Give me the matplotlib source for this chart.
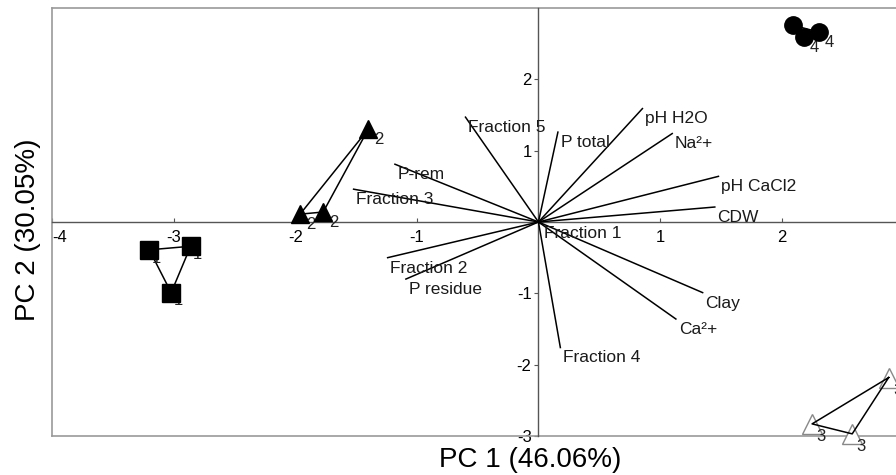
import matplotlib
matplotlib.use("Agg")
import matplotlib.pyplot as plt
from matplotlib.lines import Line2D

plt.rcParams['font.family'] = ['Liberation Sans', 'DejaVu Sans']

# ---- data ----
var_names = ["Fraction 5", "P total", "pH H2O", "Na\u00b2+", "pH CaCl2", "CDW",
             "Fraction 1", "Clay", "Ca\u00b2+", "Fraction 4", "P-rem",
             "Fraction 3", "Fraction 2", "P residue"]
var_x = [-0.60, 0.16, 0.855, 1.10, 1.48, 1.45, 0.02, 1.35, 1.13, 0.18, -1.18, -1.52, -1.24, -1.09]
var_y = [1.47, 1.26, 1.59, 1.24, 0.64, 0.21, -0.02, -0.99, -1.36, -1.76, 0.81, 0.46, -0.50, -0.80]

g1_x = [-3.20, -2.86, -3.02]
g1_y = [-0.39, -0.34, -0.99]
g2_x = [-1.40, -1.96, -1.77]
g2_y = [1.30, 0.11, 0.14]
g3_x = [2.88, 2.25, 2.58]
g3_y = [-2.18, -2.83, -2.97]
g4_x = [2.09, 2.18, 2.31]
g4_y = [2.76, 2.59, 2.66]

x_ticks = [-4, -3, -2, -1, 1, 2]
y_ticks = [-3, -2, -1, 1, 2]

# ---- figure ----
fig = plt.figure(figsize=(8.96, 4.75), dpi=100)
ax = fig.add_axes([52/896, 1-436/475, 1-52/896, (436-8)/475])
ax.set_xlim(-4, 2.94)
ax.set_ylim(-3, 3)

# zero axes via spines
ax.spines['left'].set_position(('data', 0))
ax.spines['bottom'].set_position(('data', 0))
for s in ['left', 'bottom']:
    ax.spines[s].set_color('#555555')
    ax.spines[s].set_linewidth(1.0)
ax.spines['right'].set_visible(False)
ax.spines['top'].set_visible(False)

# frame (left, top, bottom)
frame_kw = dict(transform=ax.transAxes, color='#999999', lw=1.2, clip_on=False)
ax.add_line(Line2D([0, 0], [0, 1], **frame_kw))
ax.add_line(Line2D([0, 1], [1, 1], **frame_kw))
ax.add_line(Line2D([0, 1], [0, 0], **frame_kw))

ax.set_xticks(x_ticks)
ax.set_xticklabels([str(t) for t in x_ticks])
ax.set_yticks(y_ticks)
ax.set_yticklabels([str(t) for t in y_ticks])
ax.tick_params(axis='x', direction='in', length=3, color='#555555', labelsize=12, pad=6)
ax.tick_params(axis='y', direction='out', length=3, color='#555555', labelsize=12, pad=2)
for lbl in ax.get_xticklabels():
    if lbl.get_text() == '-4':
        lbl.set_horizontalalignment('left')
        lbl.set_x(-4)

# vectors
for name, vx, vy in zip(var_names, var_x, var_y):
    ax.plot([0, vx], [0, vy], color='black', lw=1.1, zorder=3)
    ax.annotate(name, (vx, vy), xytext=(2, -7.5), textcoords='offset points',
                ha='left', va='center', fontsize=12.5, color='#1a1a1a', zorder=4)

# groups
def group(xs, ys, label, marker, ms, mfc, mec, off):
    ax.plot(xs + xs[:1], ys + ys[:1], color='black', lw=1.1, zorder=5)
    for x, y in zip(xs, ys):
        ax.annotate(label, (x, y), xytext=off, textcoords='offset points',
                    ha='left', va='center', fontsize=12, color='#222222', zorder=5.5)
    ax.plot(xs, ys, linestyle='none', marker=marker, ms=ms, mfc=mfc, mec=mec,
            mew=1.0, zorder=6, clip_on=False)

group(g1_x, g1_y, '1', 's', 13, 'black', 'black', (1.5, -6))
group(g2_x, g2_y, '2', '^', 12.5, 'black', 'black', (4, -7.5))
group(g4_x, g4_y, '4', 'o', 12.5, 'black', 'black', (4, -7.5))
# open triangles: markers drawn behind lines
ax.plot(g3_x + g3_x[:1], g3_y + g3_y[:1], color='black', lw=1.1, zorder=5, clip_on=False)
ax.plot(g3_x, g3_y, linestyle='none', marker='^', ms=14, mfc='white', mec='#888888',
        mew=1.0, zorder=4.5, clip_on=False)
for x, y in zip(g3_x, g3_y):
    ax.annotate('3', (x, y), xytext=(3, -9), textcoords='offset points',
                ha='left', va='center', fontsize=12, color='#222222', zorder=5.5,
                annotation_clip=False)

fig.text(530/896, 1-460/475, 'PC 1 (46.06%)', ha='center', va='center', fontsize=20)
fig.text(28/896, 1-230/475, 'PC 2 (30.05%)', ha='center', va='center', fontsize=20, rotation=90)

fig.savefig('out.png', dpi=100)
